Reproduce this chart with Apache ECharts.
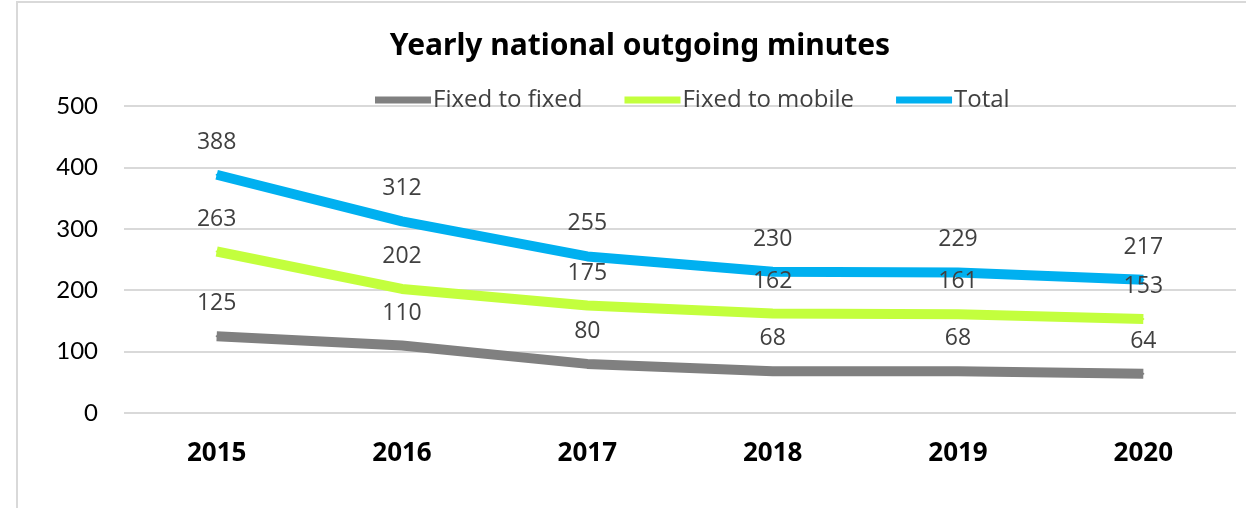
<!DOCTYPE html>
<html><head><meta charset="utf-8">
<script src="https://cdn.jsdelivr.net/npm/echarts@6/dist/echarts.min.js"></script>
<style>html,body{margin:0;padding:0;background:#fff}#c{width:1246px;height:508px}</style>
</head><body><div id="c"></div>
<script>
const categories = ['2015','2016','2017','2018','2019','2020'];
const fixedToFixed = [125,110,80,68,68,64];
const fixedToMobile = [263,202,175,162,161,153];
const total = [388,312,255,230,229,217];
const seriesNames = ['Fixed to fixed','Fixed to mobile','Total'];
const colors = ['#808080','#c3ff3d','#00b0f0'];

const chart = echarts.init(document.getElementById('c'));
const mk = (name, data, color) => ({
  name, type:'line', data, symbol:'circle', symbolSize:2, showSymbol:true, smooth:false,
  lineStyle:{width:10,color}, itemStyle:{color},
  label:{show:true,position:'top',distance:20,fontSize:23,color:'#404040',fontFamily:'Open Sans'},
  emphasis:{disabled:true},
  z: 2
});
chart.setOption({
  animation:false,
  color: colors,
  graphic:[{type:'rect',shape:{x:17,y:2,width:1400,height:700},style:{fill:'none',stroke:'#d9d9d9',lineWidth:2},silent:true,z:-1}],
  title:{text:'Yearly national outgoing minutes',left:635,top:26,textAlign:'center',
    textStyle:{fontSize:30,fontWeight:'bold',color:'#000',fontFamily:'Noto Sans'}},
  legend:{top:83,left:370,itemWidth:56,itemHeight:7,itemGap:42,icon:'rect',
    textStyle:{fontSize:24,color:'#404040',fontFamily:'Open Sans',padding:[0,0,0,-3]},
    data:seriesNames},
  grid:{left:124,right:10,top:106,bottom:95},
  xAxis:{type:'category',data:categories,boundaryGap:true,
    axisLine:{show:false},axisTick:{show:false},
    axisLabel:{margin:28,fontSize:26,fontWeight:'bold',color:'#000',fontFamily:'Noto Sans'}},
  yAxis:{type:'value',min:0,max:500,interval:100,
    axisLine:{show:false},axisTick:{show:false},
    splitLine:{lineStyle:{color:'#d9d9d9',width:2}},
    axisLabel:{margin:26,fontSize:24,color:'#000',fontFamily:'Lato'}},
  series:[mk(seriesNames[0],fixedToFixed,colors[0]),mk(seriesNames[1],fixedToMobile,colors[1]),mk(seriesNames[2],total,colors[2])]
});
</script></body></html>
